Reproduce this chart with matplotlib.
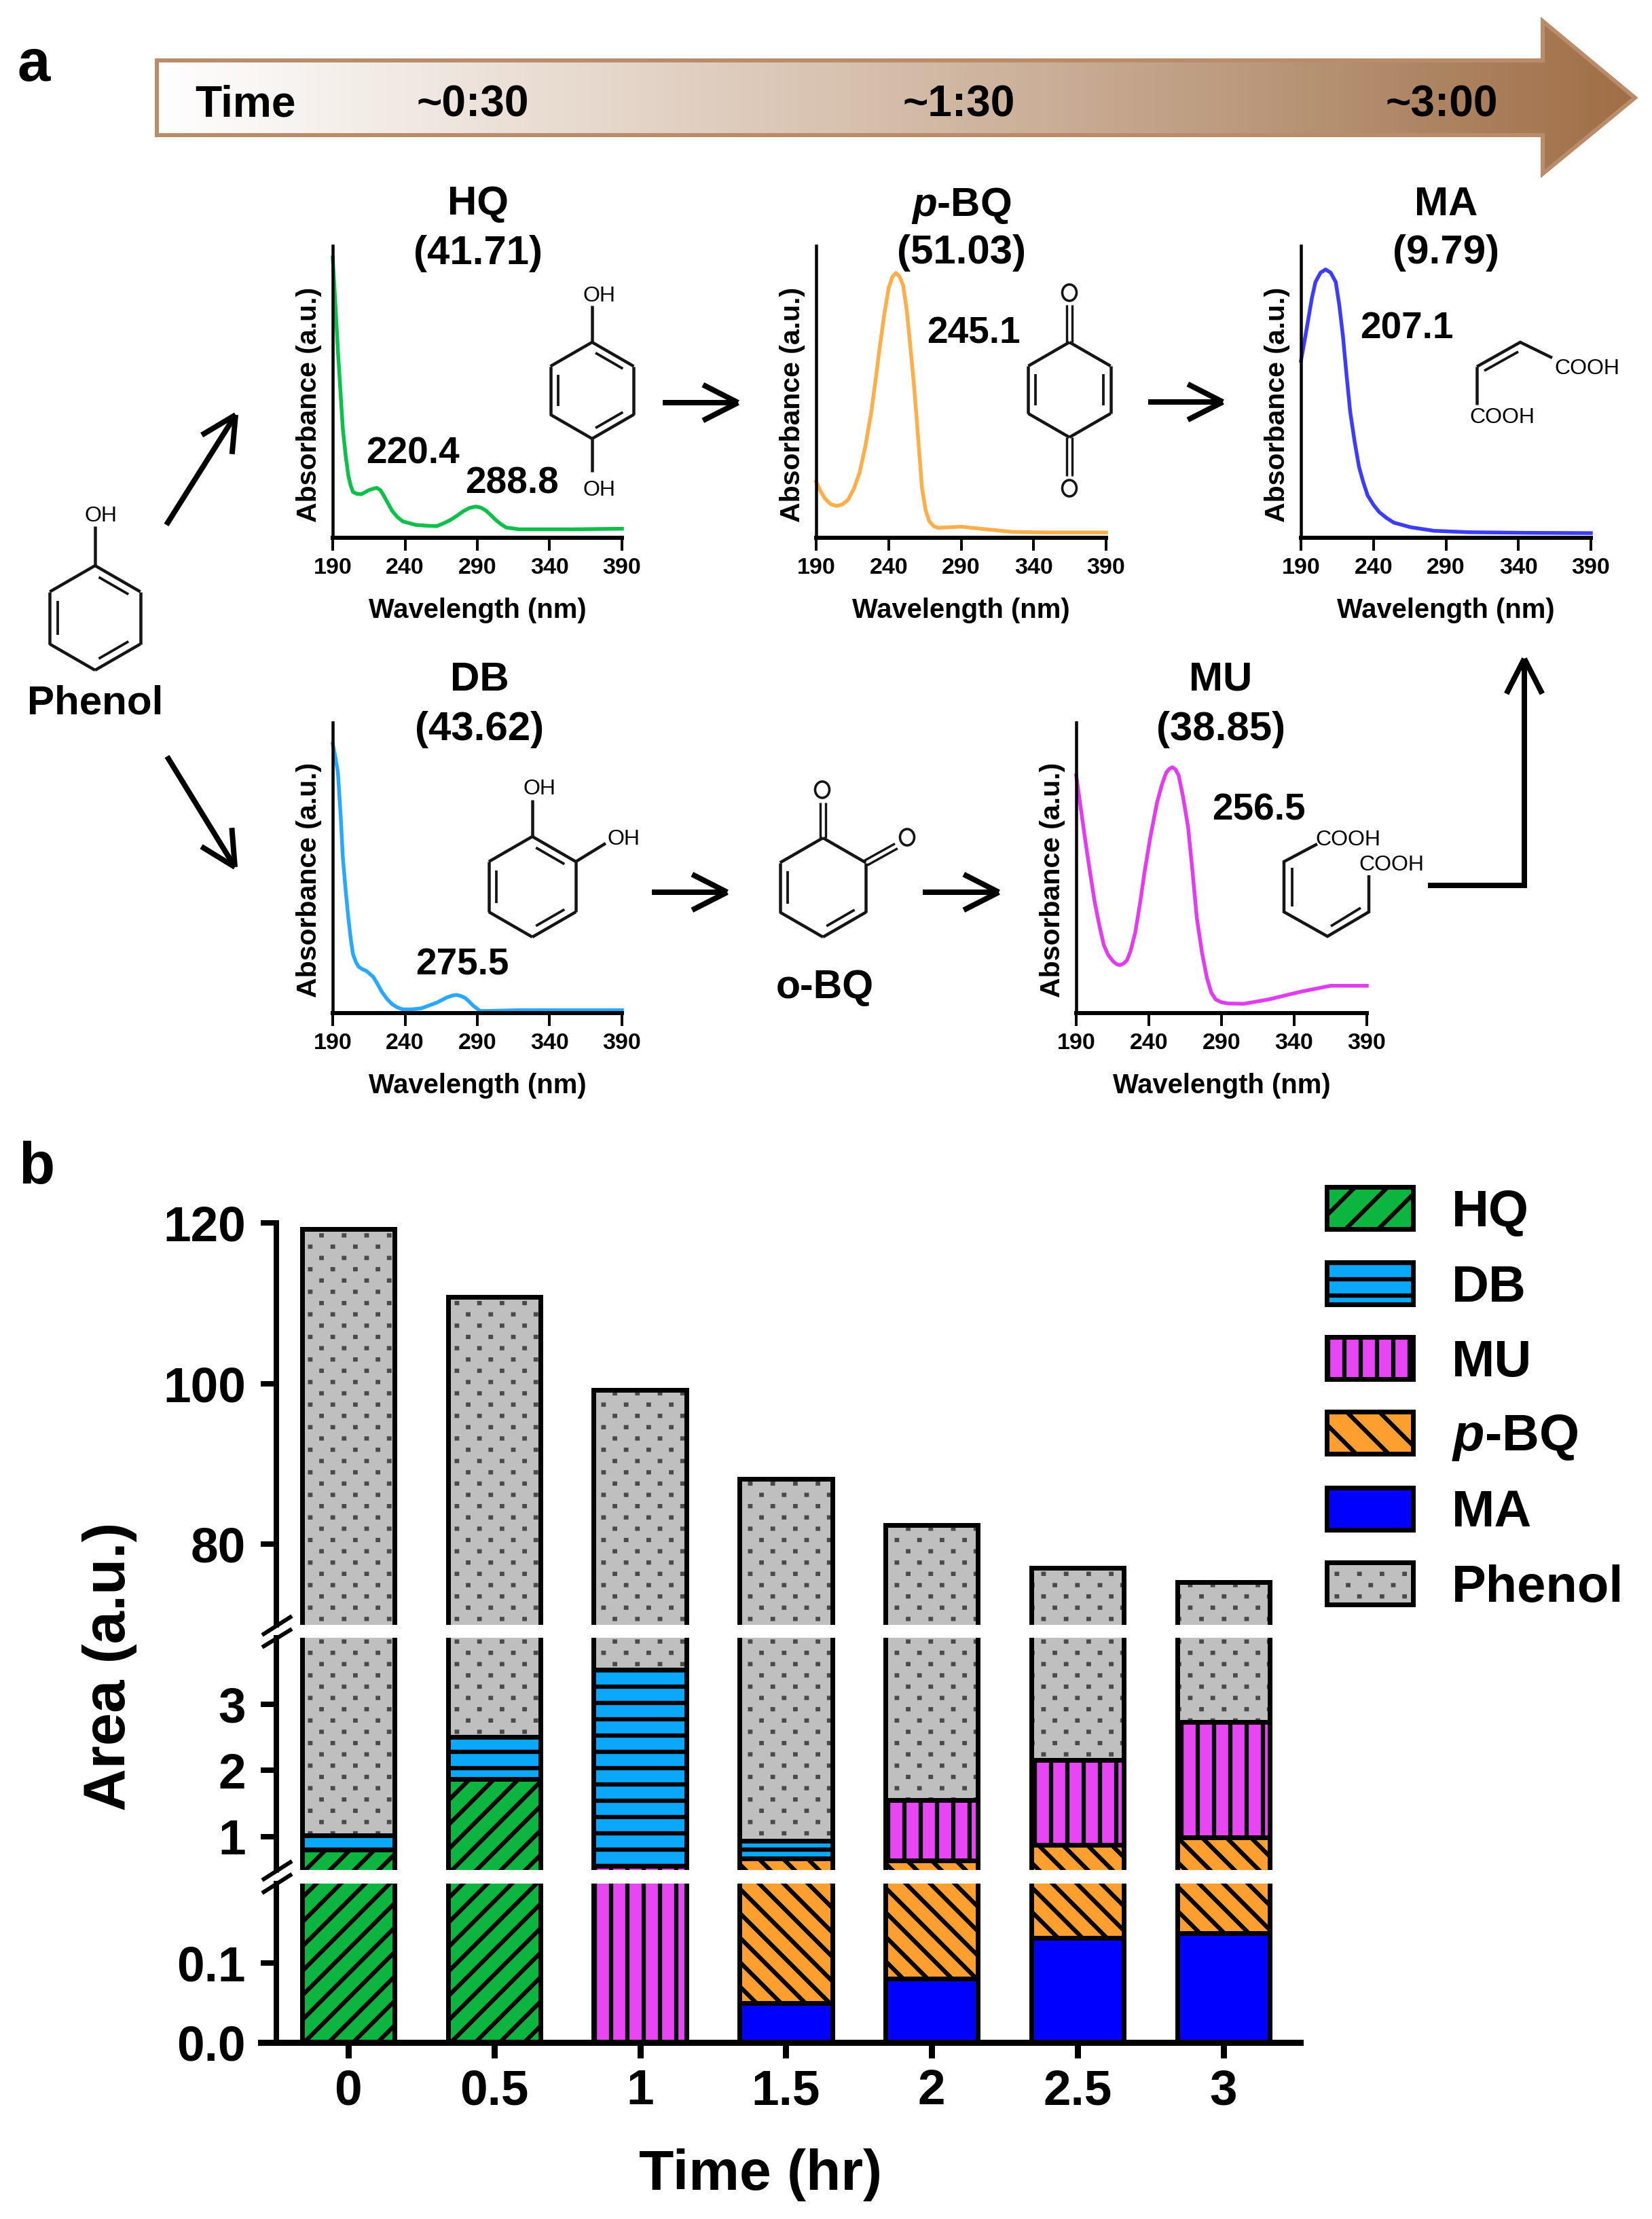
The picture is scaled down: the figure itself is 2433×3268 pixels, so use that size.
import numpy as np
import matplotlib
matplotlib.use('Agg')
import matplotlib.pyplot as plt
import matplotlib.hatch as mh
from matplotlib.path import Path
from matplotlib.patches import Polygon, Rectangle, Ellipse
from matplotlib.colors import LinearSegmentedColormap

# ---------- data ----------
time_labels = ['0', '0.5', '1', '1.5', '2', '2.5', '3']
MA = [0, 0, 0, 0.05, 0.08, 0.132, 0.138]
pBQ = [0, 0, 0, 0.62, 0.56, 0.748, 0.852]
MU = [0, 0, 0.56, 0, 0.91, 1.28, 1.74]
HQ = [0.80, 1.87, 0, 0, 0, 0, 0]
DB = [0.22, 0.63, 2.96, 0.27, 0, 0, 0]
totals = [119.2, 110.8, 99.2, 88.1, 82.4, 77.1, 75.3]

hq_wl = [190, 191.5, 193.6, 197, 199, 200.8, 202.5, 204, 206.5, 209.7, 215, 218, 220.5, 223, 225, 228, 231, 234.5, 238.5, 247.5, 256, 262, 266.5, 271, 275.5, 280, 284.5, 289, 292.5, 296, 299.5, 303, 306.5, 310, 319, 355, 390]
hq_ab = [.96, .83, .64, .373, .28, .213, .178, .157, .151, .149, .163, .168, .171, .163, .147, .12, .093, .072, .056, .044, .041, .04, .049, .06, .074, .09, .102, .107, .103, .093, .077, .06, .046, .035, .029, .029, .031]
pbq_wl = [190, 193, 196, 200, 204, 208, 212, 216, 220, 224, 228, 231, 234, 237, 240, 242.5, 245, 247.5, 250, 252.5, 254.5, 257, 259, 261, 263, 265.5, 268, 271, 274, 282, 290, 305.5, 325.5, 349, 390]
pbq_ab = [.192, .16, .135, .115, .109, .114, .13, .168, .223, .315, .43, .54, .658, .765, .855, .893, .907, .895, .865, .78, .679, .55, .43, .3, .171, .095, .057, .04, .034, .036, .038, .03, .02, .018, .018]
ma_wl = [190, 192.5, 194.8, 197.5, 200, 203.5, 207, 210.5, 214, 216.5, 219, 221.5, 224, 227, 230, 233, 236, 240, 244, 249, 254, 265.7, 281.6, 305.5, 345, 390]
ma_ab = [.606, .675, .741, .82, .876, .908, .919, .908, .876, .795, .689, .555, .43, .33, .244, .19, .145, .113, .088, .068, .052, .036, .024, .019, .017, .016]
db_wl = [190, 191.5, 193.6, 195.5, 197, 199, 200.8, 202.5, 204, 206, 208, 210.5, 213, 218, 221, 224, 227.5, 231, 234.5, 238.5, 245, 251, 262, 269, 272.5, 275.5, 278.5, 281.6, 284.5, 287, 292, 319, 390]
db_ab = [.927, .89, .828, .68, .536, .42, .328, .255, .203, .176, .159, .151, .146, .125, .1, .073, .049, .031, .02, .0125, .013, .016, .036, .054, .06, .0625, .059, .052, .039, .026, .007, .01, .01]
mu_wl = [190, 193, 196.4, 199.5, 202.8, 206, 209, 212, 215.6, 218, 220, 222.5, 225, 227.5, 230.6, 234, 237, 241, 245.6, 249, 252, 254, 256.2, 258.4, 260.5, 263.5, 267, 270, 273, 276.5, 280, 283, 286, 290, 294.7, 305.4, 322.5, 344, 365, 390]
mu_ab = [.818, .71, .589, .485, .38, .3, .234, .2, .177, .168, .165, .17, .182, .215, .276, .38, .484, .605, .724, .786, .828, .84, .846, .838, .818, .745, .64, .49, .328, .21, .12, .07, .047, .037, .033, .032, .047, .073, .094, .094]
wl_ticks = [190, 240, 290, 340, 390]

# ---------- style ----------
W, H, DPI = 2433, 3268, 432
px = 72 / DPI
BLACK = '#000000'
C_HQ, C_DB, C_MU, C_PBQ, C_MA, C_PH = '#0BB53F', '#0AA8F8', '#E845F5', '#FF9F30', '#0000FF', '#BFBFBF'
INK = '#151515'
DOT = '#4A4A4A'


class SparseDots(mh.HatchPatternBase):
    """Staggered dots as very short strokes, in the reference's wide spacing."""
    filled = False

    def __init__(self, hatch, density):
        self.rows, self.cols = 26, 13
        self.num_vertices = self.rows * self.cols * 2 if hatch.count('.') else 0

    def set_vertices_and_codes(self, vertices, codes):
        c = 0
        for r in range(self.rows):
            for q in range(self.cols):
                x = (q + (0.5 if r % 2 else 0.0) + 0.25) / self.cols
                y = (r + 0.5) / self.rows
                vertices[c] = (x - 0.0006, y)
                vertices[c + 1] = (x + 0.0006, y)
                codes[c] = Path.MOVETO
                codes[c + 1] = Path.LINETO
                c += 2


mh._hatch_types[:] = [t for t in mh._hatch_types if t is not mh.SmallFilledCircles] + [SparseDots]

plt.rcParams['font.family'] = ['Liberation Sans', 'DejaVu Sans']
plt.rcParams['hatch.linewidth'] = 1.05
plt.rcParams['mathtext.fontset'] = 'custom'
plt.rcParams['mathtext.it'] = 'Liberation Sans:italic:bold'
plt.rcParams['mathtext.rm'] = 'Liberation Sans:bold'

fig = plt.figure(figsize=(W / DPI, H / DPI), dpi=DPI, facecolor='white')


def axpx(x0, y0, x1, y1, **kw):
    return fig.add_axes([x0 / W, 1 - y1 / H, (x1 - x0) / W, (y1 - y0) / H], **kw)


# ---------- spectra ----------
def spectrum(x0, x1, y0, y1, wl, ab, color):
    ax = axpx(x0, y0, x1, y1)
    ax.patch.set_alpha(0)
    ax.plot(wl, ab, color=color, lw=5.5 * px, clip_on=False, solid_joinstyle='round')
    ax.set_xlim(190, 390)
    ax.set_ylim(0, 1)
    ax.set_xticks(wl_ticks)
    ax.set_yticks([])
    ax.set_xticklabels(wl_ticks, fontsize=34 * px, fontweight='bold')
    ax.tick_params(axis='x', length=19 * px, width=4 * px, pad=10 * px)
    for s in ('top', 'right'):
        ax.spines[s].set_visible(False)
    ax.spines['left'].set_linewidth(4.5 * px)
    ax.spines['bottom'].set_linewidth(6 * px)
    ax.text(0.5, -107 / (y1 - y0), 'Wavelength (nm)', fontsize=40 * px, fontweight='bold',
            ha='center', va='center', transform=ax.transAxes)
    ax.text(-35 / (x1 - x0), 196 / (y1 - y0), 'Absorbance (a.u.)', fontsize=41 * px, fontweight='bold',
            rotation=90, ha='center', va='center', transform=ax.transAxes)
    return ax


spectrum(490, 916, 362, 792, hq_wl, hq_ab, '#0CC04A')
spectrum(1202, 1629, 362, 792, pbq_wl, pbq_ab, '#FFAE4A')
spectrum(1916, 2343, 362, 792, ma_wl, ma_ab, '#3C3CFF')
spectrum(490, 916, 1064, 1492, db_wl, db_ab, '#2AA8FF')
spectrum(1585, 2013, 1064, 1492, mu_wl, mu_ab, '#E23CF0')

# ---------- stacked bar chart, three broken panels ----------
panels = [(1801, 2392.6, 70, 120, [80, 100, 120], ['80', '100', '120']),
          (2412, 2753.7, 0.5, 4, [1, 2, 3], ['1', '2', '3']),
          (2774, 3008, 0, 0.2, [0, 0.1], ['0.0', '0.1'])]
BW = 0.635
EDGE = 7 * px
x = np.arange(len(time_labels))
series = [(MA, C_MA, None), (pBQ, C_PBQ, '\\\\\\\\'), (MU, C_MU, '|||'), (HQ, C_HQ, '////'), (DB, C_DB, '---')]
for n, (ya, yb, lo, hi, tk, tl) in enumerate(panels):
    ax = axpx(407, ya, 1915, yb)
    ax.patch.set_alpha(0)
    bottom = np.zeros(len(x))
    for vals, col, hatch in series:
        for i, v in enumerate(vals):
            if v > 0:
                ax.bar(x[i], v, BW, bottom=bottom[i], color=col, edgecolor=BLACK, linewidth=EDGE, hatch=hatch)
        bottom += np.array(vals)
    ph = np.array(totals) - bottom
    ax.bar(x, ph, BW, bottom=bottom, color=C_PH, edgecolor=BLACK, linewidth=EDGE)
    ax.bar(x, ph, BW, bottom=bottom, facecolor='none', edgecolor=DOT, linewidth=0, hatch='.')
    ax.bar(x, ph, BW, bottom=bottom, facecolor='none', edgecolor=BLACK, linewidth=EDGE)
    ax.set_ylim(lo, hi)
    ax.set_xlim(-0.493, 6.527)
    ax.set_yticks(tk)
    ax.set_yticklabels(tl, fontsize=73 * px, fontweight='bold')
    ax.tick_params(axis='y', length=23 * px, width=8 * px, pad=22 * px)
    for s in ('top', 'right'):
        ax.spines[s].set_visible(False)
    ax.spines['left'].set_linewidth(8 * px)
    if n == 2:
        ax.set_xticks(x)
        ax.set_xticklabels(time_labels, fontsize=73 * px, fontweight='bold')
        ax.tick_params(axis='x', length=23 * px, width=9 * px, pad=15 * px)
        ax.spines['bottom'].set_linewidth(9 * px)
        ax.spines['bottom'].set_bounds(-0.493 - 23 / 214.8, 6.527)
    else:
        ax.set_xticks([])
        ax.spines['bottom'].set_visible(False)

# ---------- overlay in pixel coordinates: scheme, legend, labels ----------
ov = fig.add_axes([0, 0, 1, 1], zorder=10)
ov.patch.set_alpha(0)
ov.axis('off')

cmap = LinearSegmentedColormap.from_list(
    'arrow', [(0, '#FFFFFF'), (0.3, '#E6D8CC'), (0.6, '#CBAF98'), (0.8, '#B48F70'), (1, '#A06E46')])
grad = np.linspace(0, 1, 512).reshape(1, -1)
im = ov.imshow(grad, cmap=cmap, extent=(229, 2408, 256, 31), aspect='auto', zorder=1)
arrow_poly = Polygon([(231, 89), (2272, 89), (2272, 31), (2408, 144), (2272, 256), (2272, 199), (231, 199)],
                     closed=True, facecolor='none', edgecolor='#BA8C6A', lw=6 * px, zorder=2)
ov.add_patch(arrow_poly)
im.set_clip_path(arrow_poly)
ov.set_xlim(0, W)
ov.set_ylim(H, 0)


def T(x, y, s, size, bold=True, dy=4, **kw):
    kw.setdefault('ha', 'center')
    kw.setdefault('va', 'center')
    ov.text(x, y + dy, s, fontsize=size * px, fontweight='bold' if bold else 'normal', zorder=5, **kw)


T(50, 96, 'a', 87, dy=0)
T(54, 1720, 'b', 87, dy=0)
for xx, s in [(361, 'Time'), (696, '~0:30'), (1412, '~1:30'), (2123, '~3:00')]:
    T(xx, 150, s, 64)

titles = [(704, 296, 'HQ', 369, '(41.71)'), (1416, 299, r'$\mathit{p}$-BQ', 368, '(51.03)'),
          (2130, 297, 'MA', 368, '(9.79)'), (706, 997, 'DB', 1070, '(43.62)'),
          (1798, 997, 'MU', 1070, '(38.85)')]
for xx, y1, a, y2, b in titles:
    T(xx, y1, a, 60)
    T(xx, y2, b, 60)
for xx, yy, s in [(608, 664, '220.4'), (754, 708, '288.8'), (1434, 487, '245.1'),
                  (2072, 480, '207.1'), (681, 1417, '275.5'), (1854, 1189, '256.5')]:
    T(xx, yy, s, 55)
T(140, 1032, 'Phenol', 60)
T(1215, 1450, 'o-BQ', 59)
T(162, 2454, 'Area (a.u.)', 87, rotation=90, dy=0)
T(1120, 3199, 'Time (hr)', 84)


def line(pts, lw=8, color='k', z=4):
    pts = np.array(pts, float)
    ov.plot(pts[:, 0], pts[:, 1], color=color, lw=lw * px, solid_capstyle='butt', solid_joinstyle='miter', zorder=z)


def arrow(start, tip, barb=58, ang=27):
    s, t = np.array(start, float), np.array(tip, float)
    d = (s - t) / np.linalg.norm(s - t)
    line([s, t])
    for sg in (-1, 1):
        a = np.radians(sg * ang)
        r = np.array([[np.cos(a), -np.sin(a)], [np.sin(a), np.cos(a)]]) @ d
        line([t + r * barb, t])


arrow((245, 773), (347, 611))
arrow((246, 1114), (346, 1277))
arrow((976, 593), (1087, 593))
arrow((1691, 592), (1801, 592))
arrow((960, 1314), (1071, 1314))
arrow((1359, 1314), (1471, 1314))
line([(2103, 1304), (2245, 1304), (2245, 1000)])
arrow((2245, 1040), (2245, 970))


# molecules
def hex_pts(cx, cy, R):
    return [(cx + R * np.sin(np.radians(60 * k)), cy - R * np.cos(np.radians(60 * k))) for k in range(6)]


def ring(cx, cy, R, doubles):
    v = hex_pts(cx, cy, R)
    c = np.array([cx, cy])
    for k in range(6):
        a, b = np.array(v[k]), np.array(v[(k + 1) % 6])
        line([a, b], lw=4.5, color=INK)
        if k in doubles:
            a2 = a + (c - a) * 0.18
            b2 = b + (c - b) * 0.18
            m = 0.1
            line([a2 + (b2 - a2) * m, b2 - (b2 - a2) * m], lw=3.8, color=INK)


def dbl(p, q, off=4):
    p, q = np.array(p, float), np.array(q, float)
    n = (q - p)[::-1] * [1, -1]
    n = n / np.linalg.norm(n) * off
    line([p + n, q + n], lw=3.4, color=INK)
    line([p - n, q - n], lw=3.4, color=INK)


def oval(x, y):
    ov.add_patch(Ellipse((x, y), 21, 24, fill=False, edgecolor=INK, lw=3.6 * px, zorder=4))


SMALL = 32
ring(140, 910, 77, doubles=(0, 2, 4))
line([(140, 833), (140, 775)], lw=4.5, color=INK)
T(149, 756, 'OH', SMALL, bold=False)

ring(872, 575, 71, doubles=(0, 2, 4))
line([(872, 504), (872, 450)], lw=4.5, color=INK)
line([(872, 646), (872, 695)], lw=4.5, color=INK)
T(882, 432, 'OH', SMALL, bold=False)
T(882, 718, 'OH', SMALL, bold=False)

ring(1575, 574, 70, doubles=(1, 4))
dbl((1575, 504), (1575, 449))
dbl((1575, 644), (1575, 701))
oval(1575, 431)
oval(1575, 719)

line([(2175, 596), (2175, 540)], lw=4.5, color=INK)
line([(2175, 540), (2239, 504), (2286, 527)], lw=4.5, color=INK)
line([(2186, 546), (2236, 518)], lw=3.8, color=INK)
T(2337, 539, 'COOH', SMALL, bold=False)
T(2212, 611, 'COOH', SMALL, bold=False)

ring(784, 1306, 74, doubles=(0, 2, 4))
line([(784, 1232), (784, 1178)], lw=4.5, color=INK)
line([(848, 1269), (892, 1242)], lw=4.5, color=INK)
T(794, 1158, 'OH', SMALL, bold=False)
T(918, 1232, 'OH', SMALL, bold=False)

ring(1212, 1307, 73, doubles=(2, 4))
dbl((1212, 1234), (1212, 1182))
dbl((1275, 1271), (1320, 1246))
oval(1211, 1163)
oval(1336, 1233)

line([(1940, 1243), (1891, 1269), (1891, 1343), (1955, 1379), (2016, 1343), (2016, 1289)], lw=4.5, color=INK)
line([(1903, 1278), (1903, 1335)], lw=3.8, color=INK)
line([(1960, 1364), (2004, 1337)], lw=3.8, color=INK)
T(1985, 1233, 'COOH', SMALL, bold=False)
T(2049, 1270, 'COOH', SMALL, bold=False)

# axis-break marks
for ya, yb in [(2408, 2380), (2426, 2399), (2769, 2741), (2788, 2760)]:
    line([(386, ya), (430, yb)], lw=6)

# legend
legend_rows = [('HQ', C_HQ, '///'), ('DB', C_DB, '---'), ('MU', C_MU, '|||'),
               (r'$\mathit{p}$-BQ', C_PBQ, '\\\\\\'), ('MA', C_MA, None), ('Phenol', C_PH, '.')]
ys = [1779, 1890, 2000, 2110, 2222, 2332]
for (lab, col, hatch), yy in zip(legend_rows, ys):
    if hatch == '.':
        ov.add_patch(Rectangle((1954, yy - 31), 127, 62, facecolor=col, edgecolor='k', lw=7 * px, zorder=3))
        ov.add_patch(Rectangle((1954, yy - 31), 127, 62, facecolor='none', edgecolor=DOT, lw=0, hatch='.', zorder=3))
        ov.add_patch(Rectangle((1954, yy - 31), 127, 62, facecolor='none', edgecolor='k', lw=7 * px, zorder=3))
    else:
        ov.add_patch(Rectangle((1954, yy - 31), 127, 62, facecolor=col, edgecolor='k', lw=7 * px, hatch=hatch, zorder=3))
    T(2138, yy + 3, lab, 76, ha='left')

fig.savefig('out.png', dpi=DPI)
